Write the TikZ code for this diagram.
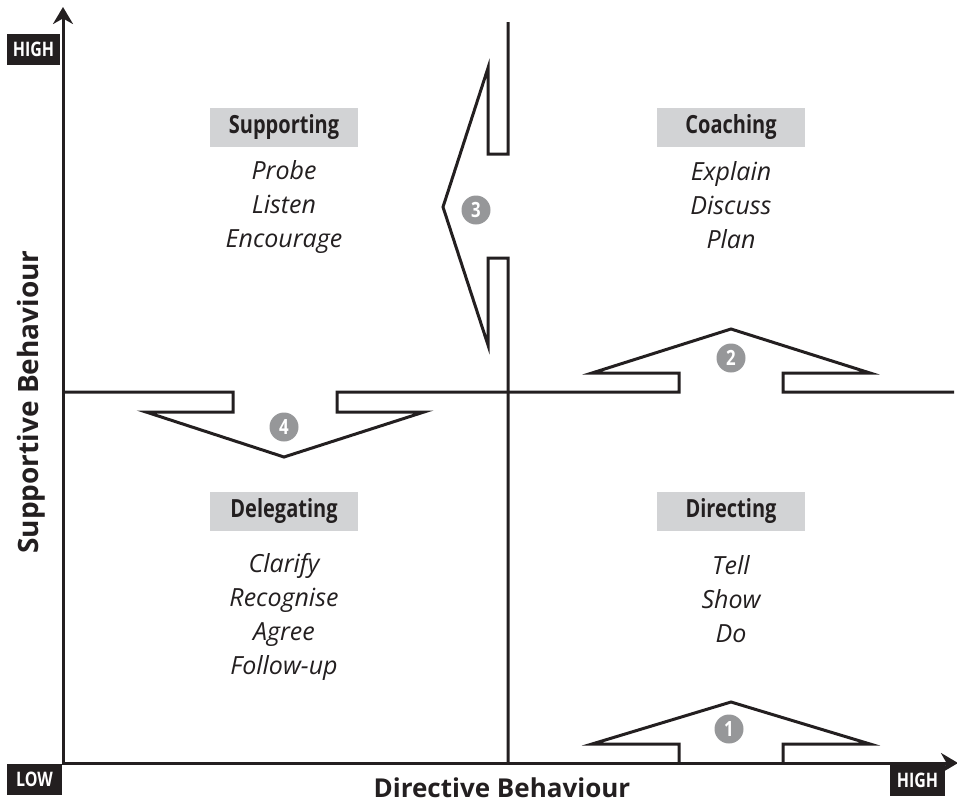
\documentclass[tikz,border=0pt]{standalone}
\usepackage{fontspec}
\setmainfont{Open Sans}
\newfontfamily\condfont[FakeStretch=0.8]{Open Sans}
\usepackage{tikz}
\usetikzlibrary{arrows.meta}
\definecolor{ink}{RGB}{35,31,32}
\definecolor{tagbg}{RGB}{210,211,213}
\definecolor{numbg}{RGB}{150,151,153}

\begin{document}
\begin{tikzpicture}[x=1pt,y=-1pt,line width=3pt,draw=ink,
  tag/.style = {fill=tagbg, text=ink, minimum width=148pt, minimum height=39pt, inner sep=0pt, font=\condfont\bfseries\fontsize{25}{25}\selectfont},
  words/.style = {align=center, text=ink, font=\itshape\fontsize{25}{34}\selectfont},
  num/.style = {circle, fill=numbg, text=white, minimum size=29pt, inner sep=0pt, font=\condfont\bfseries\fontsize{21}{21}\selectfont},
  level/.style = {fill=ink, text=white, minimum height=31pt, inner sep=0pt, font=\condfont\bfseries\fontsize{20}{20}\selectfont},
  axtitle/.style = {text=ink, font=\bfseries\fontsize{26}{26}\selectfont},
  axtip/.tip = {Stealth[length=17pt,width=20pt]}]
\useasboundingbox (0,0) rectangle (957,803);
% axes
\coordinate (origin) at (63,763);
\coordinate (ytop) at (63,7);
\coordinate (xend) at (958,763);
\draw[axtip-axtip] (ytop) -- (origin) -- (xend);
% middle lines with the arrows 4 and 2 built in
\draw (63,392) -- (233,392) -- (233,412) -- (146,412) -- (284,457) -- (424,412) -- (337,412) -- (337,392)
  -- (679,392) -- (679,373) -- (592,373) -- (731,329) -- (870,373) -- (783,373) -- (783,392) -- (954,392);
% vertical line with arrow 3
\draw (508,22) -- (508,154) -- (488,154) -- (488,68) -- (443,207) -- (488,345) -- (488,258) -- (508,258) -- (508,763);
% arrow 1 on the axis
\draw (679,763) -- (679,744) -- (592,744) -- (731,702) -- (870,744) -- (783,744) -- (783,763);
% quadrants
\node (supporting) [tag] at (284,127) {Supporting};
\node (supportwords) [words] at (284,207) {Probe\\Listen\\Encourage};
\node (coaching) [tag] at (731,127) {Coaching};
\node (coachwords) [words] at (731,205) {Explain\\Discuss\\Plan};
\node (delegating) [tag] at (284,511) {Delegating};
\node (delegatewords) [words] at (284,617) {Clarify\\Recognise\\Agree\\Follow-up};
\node (directing) [tag] at (731,511) {Directing};
\node (directwords) [words] at (731,599) {Tell\\Show\\Do};
\foreach \n/\x/\y in {1/729/729, 2/731/358, 3/476/210, 4/284/427}
\node (num\n) [num] at (\x,\y) {\n};
% scale ends
\node (yhigh) [level, minimum width=53pt] at (33.5,49) {HIGH};
\node (xlow) [level, minimum width=55pt] at (34.5,779.5) {LOW};
\node (xhigh) [level, minimum width=55pt] at (917.5,780) {HIGH};
\node (xtitle) [axtitle] at (502,788) {Directive Behaviour};
\node (ytitle) [axtitle, rotate=90, font=\bfseries\fontsize{28}{28}\selectfont] at (31,402) {Supportive Behaviour};
\end{tikzpicture}
\end{document}
